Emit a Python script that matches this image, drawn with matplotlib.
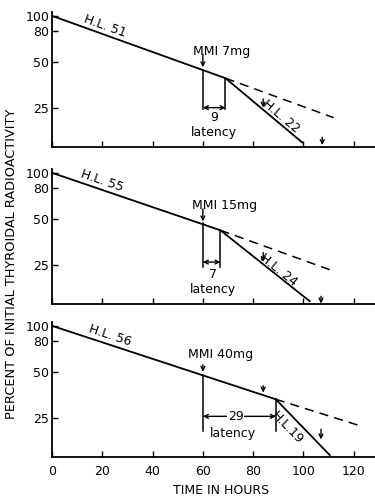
import numpy as np
import matplotlib.pyplot as plt

# one entry per panel (top to bottom)
doses = ['MMI 7mg', 'MMI 15mg', 'MMI 40mg']
hl_before = ['H.L. 51', 'H.L. 55', 'H.L. 56']
hl_after = ['H.L. 22', 'H.L. 24', 'H.L.19']
latency = ['9', '7', '29']

# solid curve vertices (time, percent)
solid_t = [[0, 69, 99.5], [0, 67, 102.5], [0, 89, 110.5]]
solid_v = [[100, 39, 14.8], [100, 42, 14.4], [100, 33, 14.2]]
# dashed extrapolation
dash_t = [[69, 112], [67, 111], [89, 123]]
dash_v = [[39, 21.5], [42, 23], [33, 22]]
# latency verticals: times, top values, bottom value
vert_t = [[60, 69], [60, 67], [60, 89]]
vert_top = [[44.3, 39], [46.9, 42], [47.6, 33]]
vert_bot = [24.5, 24, 20.5]
bracket_v = [25, 26, 25.5]
# small arrows (time, tail, tip)
arrows = [
    [(60, 56, 46), (84, 28.5, 25), (107.5, 16, 14.2)],
    [(60, 58, 48), (84, 30, 26), (107, 15.5, 13.9)],
    [(60, 55.5, 50), (84, 40.5, 36.5), (107, 21, 18)],
]
# label positions
hl1_pos = [(21, 86), (20, 89), (23, 87)]
mmi_pos = [(56, 58), (55.5, 61), (54, 65)]
lat_num_pos = [(64.5, 21.5), (64, 21.5), (73, 25.5)]
lat_txt_pos = [(64.5, 17.3), (64, 17.2), (72, 19.6)]
hl2_pos = [(91, 22), (90, 23), (93.5, 21.5)]

xticks = [0, 20, 40, 60, 80, 100, 120]
yticks = [25, 50, 80, 100]

fig = plt.figure(figsize=(3.75, 5), dpi=100)
bottoms = [0.706, 0.392, 0.086]


def screen_angle(ax, t, v):
    p1 = ax.transData.transform((t[0], v[0]))
    p2 = ax.transData.transform((t[1], v[1]))
    return np.degrees(np.arctan2(p2[1] - p1[1], p2[0] - p1[0]))


for i in range(3):
    ax = fig.add_axes([0.139, bottoms[i], 0.861, 0.27])
    ax.set_yscale('log')
    ax.set_xlim(0, 128.5)
    ax.set_ylim(13.8, 106)
    for s in ['top', 'right']:
        ax.spines[s].set_visible(False)
    for s in ['left', 'bottom']:
        ax.spines[s].set_linewidth(1.3)
    ax.set_yticks(yticks)
    ax.set_yticklabels([str(y) for y in yticks])
    ax.yaxis.set_minor_locator(plt.NullLocator())
    ax.set_xticks(xticks)
    ax.tick_params(direction='in', length=4, width=1, labelsize=9, pad=2)
    ax.tick_params(axis='x', pad=6)
    if i < 2:
        ax.set_xticklabels([])

    ax.plot(solid_t[i], solid_v[i], color='k', lw=1.3)
    ax.plot(dash_t[i], dash_v[i], color='k', lw=1.1, ls=(0, (6, 4)))
    for t, top in zip(vert_t[i], vert_top[i]):
        ax.plot([t, t], [top, vert_bot[i]], color='k', lw=1.1)

    ax.annotate('', xy=(vert_t[i][0], bracket_v[i]), xytext=(vert_t[i][1], bracket_v[i]),
                arrowprops=dict(arrowstyle='<->', lw=1, color='k',
                                shrinkA=0, shrinkB=0, mutation_scale=7))
    for t, tail, tip in arrows[i]:
        ax.annotate('', xy=(t, tip), xytext=(t, tail),
                    arrowprops=dict(arrowstyle='->', lw=1, color='k',
                                    shrinkA=0, shrinkB=0, mutation_scale=7))

    a1 = screen_angle(ax, solid_t[i][:2], solid_v[i][:2])
    a2 = screen_angle(ax, solid_t[i][1:], solid_v[i][1:])
    ax.text(*hl1_pos[i], hl_before[i], rotation=a1, fontsize=9,
            ha='center', va='center', rotation_mode='anchor')
    ax.text(*hl2_pos[i], hl_after[i], rotation=a2, fontsize=9,
            ha='center', va='center', rotation_mode='anchor')
    ax.text(*mmi_pos[i], doses[i], fontsize=9, ha='left', va='center')
    bbox = dict(fc='white', ec='none', pad=0.5) if i == 2 else None
    ax.text(*lat_num_pos[i], latency[i], fontsize=9, ha='center', va='center', bbox=bbox)
    ax.text(*lat_txt_pos[i], 'latency', fontsize=9, ha='center', va='center')

fig.text(0.032, 0.472, 'PERCENT OF INITIAL THYROIDAL RADIOACTIVITY',
         rotation=90, ha='center', va='center', fontsize=9.3)
fig.text(0.59, 0.02, 'TIME IN HOURS', ha='center', va='center', fontsize=9)

fig.savefig('out.png', dpi=100)
